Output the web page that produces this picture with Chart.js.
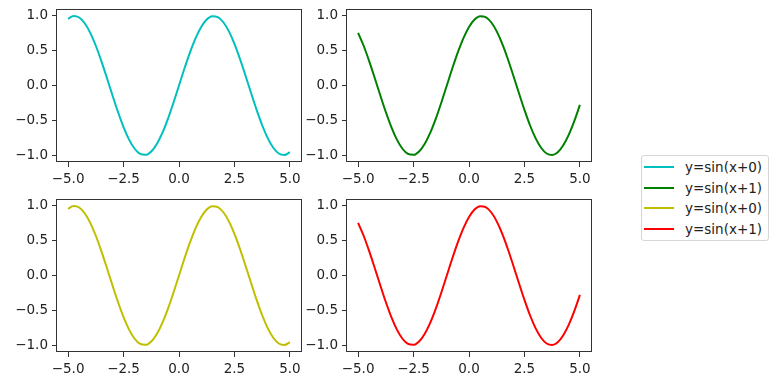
<!DOCTYPE html>
<html lang="en">
<head>
  <meta charset="UTF-8" />
  <title>y=sin(x) subplots</title>
  <script src="https://cdn.jsdelivr.net/npm/chart.js"></script>
  <style>
    * { margin: 0; padding: 0; box-sizing: border-box; }

    body {
      width: 778px;
      height: 384px;
      background: #fff;
      position: relative;
      overflow: hidden;
      font-family: 'DejaVu Sans', sans-serif;
      color: #222;
    }

    /* one box per subplot */
    .panel {
      position: absolute;
      width: 321px;
      height: 190px;
    }

    /* legend on the right, outside the grid */
    .legend {
      position: absolute;
      left: 641px;
      top: 155px;
      width: 128px;
      height: 86px;
      border: 1px solid #d6d6d6;
      border-radius: 3px;
      padding-top: 1px;
      background: rgba(255, 255, 255, 0.8);
    }

    .legend-item {
      display: flex;
      align-items: center;
      height: 20.6px;
      font-size: 13.5px;
    }

    .legend-item .handle {
      width: 30px;
      height: 2px;
      margin-left: 2px;
      margin-right: 11px;
    }
  </style>
</head>

<body>
  <div class="panel" style="left:0px; top:0px;"><canvas id="c1"></canvas></div>
  <div class="panel" style="left:290px; top:0px;"><canvas id="c2"></canvas></div>
  <div class="panel" style="left:0px; top:190px;"><canvas id="c3"></canvas></div>
  <div class="panel" style="left:290px; top:190px;"><canvas id="c4"></canvas></div>
  <div class="legend" id="legend"></div>

  <script>
    // x samples, step 0.25
    const xValues = [-5, -4.75, -4.5, -4.25, -4, -3.75, -3.5, -3.25, -3, -2.75, -2.5, -2.25, -2, -1.75, -1.5, -1.25, -1, -0.75, -0.5, -0.25,
      0, 0.25, 0.5, 0.75, 1, 1.25, 1.5, 1.75, 2, 2.25, 2.5, 2.75, 3, 3.25, 3.5, 3.75, 4, 4.25, 4.5, 4.75, 5];

    // y=sin(x+0)
    const sinX0 = [0.9589, 0.9993, 0.9775, 0.8950, 0.7568, 0.5716, 0.3508, 0.1082, -0.1411, -0.3817, -0.5985, -0.7781, -0.9093, -0.9840, -0.9975, -0.9490, -0.8415, -0.6816, -0.4794, -0.2474,
      0, 0.2474, 0.4794, 0.6816, 0.8415, 0.9490, 0.9975, 0.9840, 0.9093, 0.7781, 0.5985, 0.3817, 0.1411, -0.1082, -0.3508, -0.5716, -0.7568, -0.8950, -0.9775, -0.9993, -0.9589];

    // y=sin(x+1)
    const sinX1 = [0.7568, 0.5716, 0.3508, 0.1082, -0.1411, -0.3817, -0.5985, -0.7781, -0.9093, -0.9840, -0.9975, -0.9490, -0.8415, -0.6816, -0.4794, -0.2474, 0, 0.2474, 0.4794, 0.6816,
      0.8415, 0.9490, 0.9975, 0.9840, 0.9093, 0.7781, 0.5985, 0.3817, 0.1411, -0.1082, -0.3508, -0.5716, -0.7568, -0.8950, -0.9775, -0.9993, -0.9589, -0.8589, -0.7055, -0.5083, -0.2794];

    const xTicks = [-5, -2.5, 0, 2.5, 5];
    const xTickLabels = ['\u22125.0', '\u22122.5', '0.0', '2.5', '5.0'];
    const yTicks = [-1, -0.5, 0, 0.5, 1];
    const yTickLabels = ['\u22121.0', '\u22120.5', '0.0', '0.5', '1.0'];

    const seriesLabels = ['y=sin(x+0)', 'y=sin(x+1)', 'y=sin(x+0)', 'y=sin(x+1)'];
    const seriesColors = ['#00bfbf', '#008000', '#bfbf00', '#ff0000'];
    const seriesData = [sinX0, sinX1, sinX0, sinX1];

    const textColor = '#222';
    const spineColor = '#333';

    // matplotlib-style box around the axes
    const framePlugin = {
      id: 'frame',
      afterDraw(chart) {
        const { ctx, chartArea: a } = chart;
        ctx.save();
        ctx.strokeStyle = spineColor;
        ctx.lineWidth = 1;
        ctx.strokeRect(Math.round(a.left) - 0.5, Math.round(a.top) + 0.5,
          Math.round(a.right - a.left) + 1, Math.round(a.bottom - a.top) - 1);
        ctx.restore();
      }
    };

    function makeChart(id, idx) {
      const ctx = document.getElementById(id).getContext('2d');
      return new Chart(ctx, {
        type: 'line',
        data: {
          datasets: [{
            label: seriesLabels[idx],
            data: xValues.map((x, i) => ({ x: x, y: seriesData[idx][i] })),
            borderColor: seriesColors[idx],
            borderWidth: 2,
            pointRadius: 0,
            cubicInterpolationMode: 'monotone',
            fill: false
          }]
        },
        options: {
          responsive: true,
          maintainAspectRatio: false,
          animation: false,
          devicePixelRatio: 1,
          layout: { padding: { top: 9, right: 20, left: 0, bottom: 0 } },
          plugins: {
            legend: { display: false },
            tooltip: { enabled: false }
          },
          scales: {
            x: {
              type: 'linear',
              min: -5.5,
              max: 5.5,
              afterBuildTicks: (s) => { s.ticks = xTicks.map(v => ({ value: v })); },
              afterFit: (s) => { s.height = 28; s.paddingLeft = 0; s.paddingRight = 0; },
              grid: { drawOnChartArea: false, drawTicks: true, tickLength: 5, color: spineColor },
              border: { display: false },
              ticks: {
                color: textColor,
                padding: 4,
                maxRotation: 0,
                autoSkip: false,
                font: { family: 'DejaVu Sans', size: 13.5 },
                callback: (v, i) => xTickLabels[i]
              }
            },
            y: {
              type: 'linear',
              min: -1.1,
              max: 1.1,
              afterBuildTicks: (s) => { s.ticks = yTicks.map(v => ({ value: v })); },
              afterFit: (s) => { s.width = 57; s.paddingTop = 0; s.paddingBottom = 0; },
              grid: { drawOnChartArea: false, drawTicks: true, tickLength: 5, color: spineColor },
              border: { display: false },
              ticks: {
                color: textColor,
                padding: 4,
                autoSkip: false,
                font: { family: 'DejaVu Sans', size: 13.5 },
                callback: (v, i) => yTickLabels[i]
              }
            }
          }
        },
        plugins: [framePlugin]
      });
    }

    makeChart('c1', 0);
    makeChart('c2', 1);
    makeChart('c3', 2);
    makeChart('c4', 3);

    // legend built from the same labels and colours
    const legend = document.getElementById('legend');
    seriesLabels.forEach((label, i) => {
      const row = document.createElement('div');
      row.className = 'legend-item';
      const h = document.createElement('span');
      h.className = 'handle';
      h.style.background = seriesColors[i];
      const t = document.createElement('span');
      t.textContent = label;
      row.appendChild(h);
      row.appendChild(t);
      legend.appendChild(row);
    });
  </script>
</body>
</html>
